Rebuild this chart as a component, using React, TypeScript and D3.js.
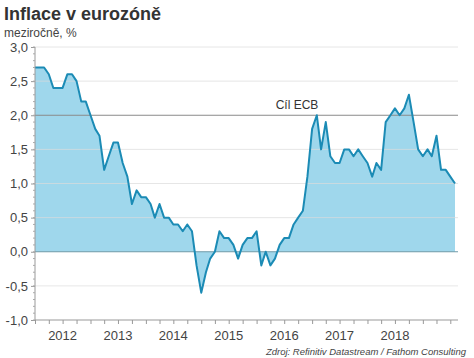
import React, { useEffect, useRef } from 'react'
import * as d3 from 'd3'

// monthly HICP, y/y %, from Jan 2012
const startMonth = new Date(2012, 0, 1)
const values2012 = [2.7, 2.7, 2.7, 2.6, 2.4, 2.4, 2.4, 2.6, 2.6, 2.5, 2.2, 2.2]
const values2013 = [2.0, 1.8, 1.7, 1.2, 1.4, 1.6, 1.6, 1.3, 1.1, 0.7, 0.9, 0.8]
const values2014 = [0.8, 0.7, 0.5, 0.7, 0.5, 0.5, 0.4, 0.4, 0.3, 0.4, 0.3, -0.2]
const values2015 = [-0.6, -0.3, -0.1, 0.0, 0.3, 0.2, 0.2, 0.1, -0.1, 0.1, 0.2, 0.2]
const values2016 = [0.3, -0.2, 0.0, -0.2, -0.1, 0.1, 0.2, 0.2, 0.4, 0.5, 0.6, 1.1]
const values2017 = [1.8, 2.0, 1.5, 1.9, 1.4, 1.3, 1.3, 1.5, 1.5, 1.4, 1.5, 1.4]
const values2018 = [1.3, 1.1, 1.3, 1.2, 1.9, 2.0, 2.1, 2.0, 2.1, 2.3, 1.9, 1.5]
const values2019 = [1.4, 1.5, 1.4, 1.7, 1.2, 1.2, 1.1, 1.0]

const yTicks = [-1, -0.5, 0, 0.5, 1, 1.5, 2, 2.5, 3]
const yearLabels = [2012, 2013, 2014, 2015, 2016, 2017, 2018]
const targetValue = 2.0
const targetLabel = 'Cíl ECB'
const title = 'Inflace v eurozóně'
const subtitle = 'meziročně, %'
const source = 'Zdroj: Refinitiv Datastream / Fathom Consulting'

const font = '"Liberation Sans", Arial, sans-serif'

export default function App() {
    const ref = useRef<SVGSVGElement>(null)

    useEffect(() => {
        const allValues = [...values2012, ...values2013, ...values2014, ...values2015,
            ...values2016, ...values2017, ...values2018, ...values2019]
        const data = allValues.map((v, i) => ({ date: d3.timeMonth.offset(startMonth, i), value: v }))

        const width = 474
        const height = 358
        const margin = { top: 47, right: 16, bottom: 38, left: 35 }
        const plotRight = width - margin.right
        const plotBottom = height - margin.bottom

        const svg = d3.select(ref.current)
        svg.selectAll('*').remove()

        const x = d3.scaleTime()
            .domain([data[0].date, data[data.length - 1].date])
            .range([margin.left, 455])

        const y = d3.scaleLinear()
            .domain([-1, 3])
            .range([plotBottom, margin.top])

        const fmt = (d: number) => d.toFixed(1).replace('.', ',')

        // area between line and zero
        const area = d3.area<{ date: Date, value: number }>()
            .x(d => x(d.date))
            .y0(y(0))
            .y1(d => y(d.value))

        const line = d3.line<{ date: Date, value: number }>()
            .x(d => x(d.date))
            .y(d => y(d.value))

        svg.append('path')
            .datum(data)
            .attr('fill', '#9fd7ec')
            .attr('d', area)

        // grid
        svg.append('g')
            .selectAll('line')
            .data(yTicks.filter(t => t !== 0 && t !== -1 && t !== targetValue))
            .join('line')
            .attr('x1', margin.left)
            .attr('x2', plotRight)
            .attr('y1', d => y(d))
            .attr('y2', d => y(d))
            .attr('stroke', '#dcdcdc')
            .attr('stroke-opacity', 0.7)

        // target line
        svg.append('line')
            .attr('x1', margin.left).attr('x2', plotRight)
            .attr('y1', y(targetValue)).attr('y2', y(targetValue))
            .attr('stroke', '#8a8a8a')
            .attr('stroke-width', 1.2)

        svg.append('text')
            .attr('x', 297)
            .attr('y', y(targetValue) - 6)
            .attr('text-anchor', 'middle')
            .attr('font-family', font)
            .attr('font-size', 12)
            .attr('fill', '#333')
            .text(targetLabel)

        // zero line
        svg.append('line')
            .attr('x1', margin.left).attr('x2', plotRight)
            .attr('y1', y(0)).attr('y2', y(0))
            .attr('stroke', '#6f9aa8')
            .attr('stroke-width', 1.2)

        svg.append('path')
            .datum(data)
            .attr('fill', 'none')
            .attr('stroke', '#1b8bb5')
            .attr('stroke-width', 2)
            .attr('stroke-linejoin', 'round')
            .attr('d', line)

        // y axis
        const yAxis = d3.axisLeft(y)
            .tickValues(yTicks)
            .tickSize(4)
            .tickPadding(3)
            .tickFormat(d => fmt(+d))

        const yAxisGroup = svg.append('g')
            .attr('transform', `translate(${margin.left}, 0)`)
            .call(yAxis)
        yAxisGroup.select('.domain').attr('stroke', '#999').attr('d', `M0,${margin.top}V${plotBottom}`)
        yAxisGroup.selectAll('.tick line').attr('stroke', '#999')
        yAxisGroup.selectAll('text')
            .attr('font-family', font)
            .attr('font-size', 13)
            .attr('fill', '#444')

        // minor y ticks
        svg.append('g')
            .selectAll('line')
            .data(d3.range(-10, 31).map(i => i / 10))
            .join('line')
            .attr('x1', margin.left - 2)
            .attr('x2', margin.left)
            .attr('y1', d => y(d))
            .attr('y2', d => y(d))
            .attr('stroke', '#aaa')

        // x axis
        const xAxis = d3.axisBottom(x)
            .ticks(d3.timeMonth.every(3))
            .tickSize(4)
            .tickFormat(() => '')

        const xAxisGroup = svg.append('g')
            .attr('transform', `translate(0, ${plotBottom})`)
            .call(xAxis)
        xAxisGroup.select('.domain').attr('stroke', '#999').attr('d', `M${margin.left},0H${plotRight}`)
        xAxisGroup.selectAll('.tick line').attr('stroke', '#999')

        svg.append('g')
            .selectAll('text')
            .data(yearLabels)
            .join('text')
            .attr('x', d => x(new Date(d, 6, 1)))
            .attr('y', plotBottom + 20)
            .attr('text-anchor', 'middle')
            .attr('font-family', font)
            .attr('font-size', 13)
            .attr('fill', '#444')
            .text(d => d)

        // titles
        svg.append('text')
            .attr('x', 4).attr('y', 20)
            .attr('font-family', font)
            .attr('font-size', 18)
            .attr('font-weight', 'bold')
            .attr('fill', '#333')
            .text(title)

        svg.append('text')
            .attr('x', 4).attr('y', 37)
            .attr('font-family', font)
            .attr('font-size', 12)
            .attr('fill', '#444')
            .text(subtitle)

        svg.append('text')
            .attr('x', 466).attr('y', 355)
            .attr('text-anchor', 'end')
            .attr('font-family', font)
            .attr('font-size', 9.5)
            .attr('font-style', 'italic')
            .attr('fill', '#444')
            .text(source)
    }, [])

    return (
        <div style={{ position: 'absolute', left: 0, top: 0 }}>
            <svg ref={ref} width={474} height={358} style={{ display: 'block', background: '#fff' }} />
        </div>
    )
}
